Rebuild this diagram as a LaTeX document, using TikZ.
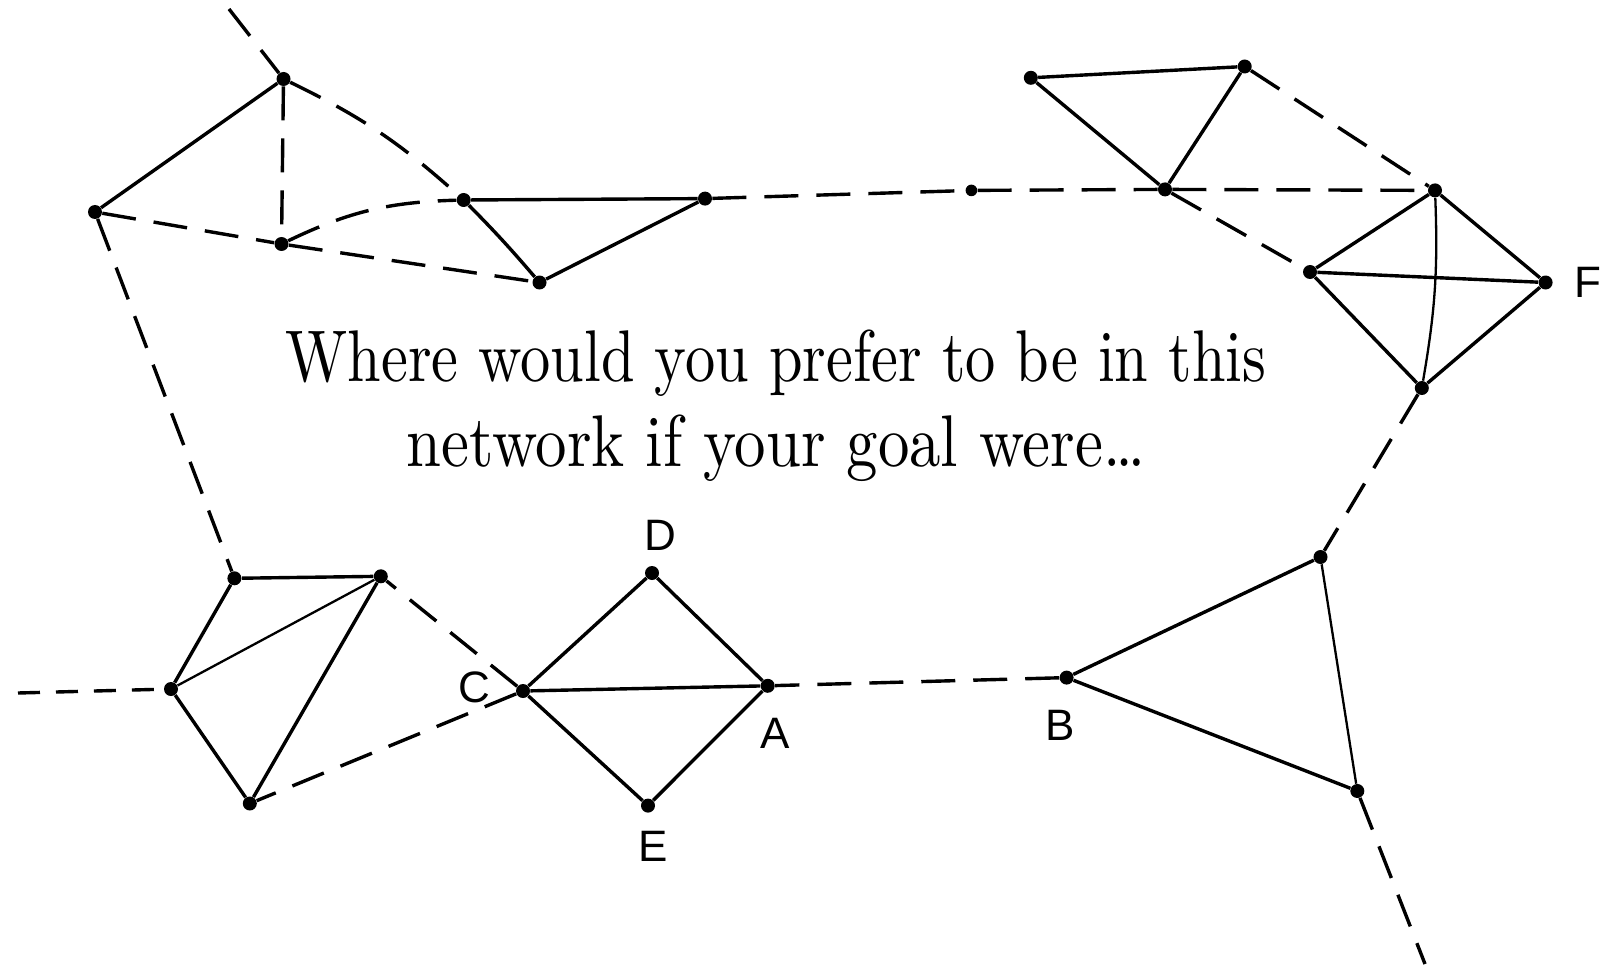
\documentclass[tikz,border=0pt]{standalone}
\usepackage{fontspec}
\newfontfamily\labelfont{Liberation Sans}
\newfontfamily\qfont{lmroman10-regular.otf}
\begin{document}
\begin{tikzpicture}[x=0.5pt,y=-0.5pt,
  dot/.style={circle,fill=black,inner sep=0pt,minimum size=7pt},
  sdot/.style={circle,fill=black,inner sep=0pt,minimum size=5.8pt},
  solidedge/.style={line width=1.7pt},
  thinedge/.style={line width=1.15pt},
  dashedge/.style={line width=1.7pt,dash pattern=on 17pt off 9pt},
  shortdash/.style={line width=1.7pt,dash pattern=on 11pt off 8pt},
  lbl/.style={font=\labelfont\fontsize{22}{26}\selectfont,inner sep=0pt},
  question/.style={anchor=base,inner sep=0pt,font=\qfont\fontsize{36.6}{42}\selectfont}]
\useasboundingbox (0,0) rectangle (1605,968);

% free ends
\coordinate (P0) at (229,9);
\coordinate (Lend) at (18,693);
\coordinate (Bend) at (1425,964);

% nodes
\node[dot] (N1) at (283.5,79) {};
\node[dot] (N2) at (95,212) {};
\node[dot] (N3) at (281.5,244) {};
\node[dot] (N4) at (463.7,200) {};
\node[dot] (N5) at (539.5,282.5) {};
\node[dot] (N6) at (705,198.6) {};
\node[sdot] (N7) at (971.4,190.4) {};
\node[dot] (N8) at (1165,189.4) {};
\node[dot] (N9) at (1030.8,77.8) {};
\node[dot] (N10) at (1244.7,66.5) {};
\node[dot] (N11) at (1435,190.4) {};
\node[dot] (N12) at (1310,272) {};
\node[dot] (F) at (1545.6,282.5) {};
\node[dot] (N13) at (1421.8,388) {};
\node[dot] (N14) at (1320.5,557) {};
\node[dot] (N15) at (1357.3,791) {};
\node[dot] (B) at (1066.6,677.6) {};
\node[dot] (A) at (767.7,685.8) {};
\node[dot] (D) at (652,573) {};
\node[dot] (E) at (648,805.6) {};
\node[dot] (C) at (523,691) {};
\node[dot] (L1) at (234.4,578.3) {};
\node[dot] (L2) at (380.8,576.3) {};
\node[dot] (L3) at (171,689) {};
\node[dot] (L4) at (249.8,803.5) {};

% labels
\node[lbl] (tD) at (660,535) {D};
\node[lbl] (tC) at (474,687) {C};
\node[lbl] (tA) at (775,733) {A};
\node[lbl] (tE) at (653,846.5) {E};
\node[lbl] (tB) at (1060,725) {B};
\node[lbl] (tF) at (1588,282.5) {F};

% question text
\node[question] (q1) at (776,381) {\scalebox{0.825}[1]{Where would you prefer to be in this}};
\node[question] (q2) at (776,466) {\scalebox{0.858}[1]{network if your goal were\ldots}};

% top-left cluster
\draw[dashedge] (P0) -- (N1);
\draw[solidedge] (N1) -- (N2);
\draw[dashedge] (N1) -- (N3);
\draw[dashedge] (N1) to[bend left=8] (N4);
\draw[dashedge] (N2) -- (N3);
\draw[dashedge] (N3) -- (N5);
\draw[dashedge] (N3) to[bend left=12] (N4);
\draw[dashedge] (N2) -- (L1);
\draw[solidedge] (N4) -- (N6);
\draw[solidedge] (N4) to[bend left=2] (N5);
\draw[solidedge] (N5) -- (N6);
\draw[dashedge] (N6) -- (N7);
\draw[dashedge] (N7) -- (N8);
\draw[dashedge] (N8) -- (N11);

% top-right
\draw[solidedge] (N9) -- (N10);
\draw[solidedge] (N9) -- (N8);
\draw[solidedge] (N10) -- (N8);
\draw[dashedge] (N10) -- (N11);
\draw[dashedge] (N8) -- (N12);
\draw[solidedge] (N11) -- (N12);
\draw[solidedge] (N11) -- (F);
\draw[solidedge] (N12) -- (F);
\draw[solidedge] (N12) -- (N13);
\draw[solidedge] (F) -- (N13);
\draw[thinedge] (N11) to[bend left=6] (N13);
\draw[dashedge] (N13) -- (N14);

% bottom-right
\draw[solidedge] (N14) -- (B);
\draw[thinedge] (N14) -- (N15);
\draw[solidedge] (B) -- (N15);
\draw[dashedge] (N15) -- (Bend);
\draw[dashedge] (B) -- (A);

% diamond
\draw[solidedge] (A) -- (D);
\draw[solidedge] (A) -- (E);
\draw[solidedge] (A) -- (C);
\draw[solidedge] (C) -- (D);
\draw[solidedge] (C) -- (E);

% bottom-left cluster
\draw[dashedge] (C) -- (L2);
\draw[dashedge] (C) -- (L4);
\draw[solidedge] (L1) -- (L2);
\draw[solidedge] (L1) -- (L3);
\draw[thinedge] (L3) -- (L2);
\draw[solidedge] (L2) -- (L4);
\draw[solidedge] (L3) -- (L4);
\draw[shortdash] (Lend) -- (L3);
\end{tikzpicture}
\end{document}
